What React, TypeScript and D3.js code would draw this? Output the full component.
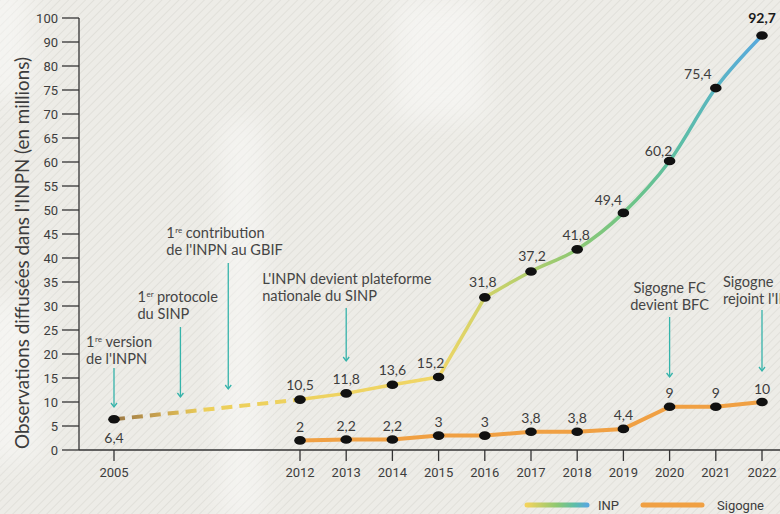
import React from "react";
import * as d3 from "d3";

const inpnYears = [2005, 2012, 2013, 2014, 2015, 2016, 2017, 2018, 2019, 2020, 2021, 2022];
const inpnValues = [6.4, 10.5, 11.8, 13.6, 15.2, 31.8, 37.2, 41.8, 49.4, 60.2, 75.4, 92.7];
const inpnLabels = ["6,4", "10,5", "11,8", "13,6", "15,2", "31,8", "37,2", "41,8", "49,4", "60,2", "75,4", "92,7"];

const sigYears = [2012, 2013, 2014, 2015, 2016, 2017, 2018, 2019, 2020, 2021, 2022];
const sigValues = [2, 2.2, 2.2, 3, 3, 3.8, 3.8, 4.4, 9, 9, 10];
const sigLabels = ["2", "2,2", "2,2", "3", "3", "3,8", "3,8", "4,4", "9", "9", "10"];

const yTicks = [0, 5, 10, 15, 20, 25, 30, 35, 40, 45, 50, 55, 60, 65, 70, 75, 80, 90, 100];
const xTicks = [2005, 2012, 2013, 2014, 2015, 2016, 2017, 2018, 2019, 2020, 2021, 2022];

const events = [
  { year: 2005, lines: [["1", "re", "version"], ["de l'INPN"]] },
  { year: 2007.5, lines: [["1", "er", "protocole"], ["du SINP"]] },
  { year: 2009.3, lines: [["1", "re", "contribution"], ["de l'INPN au GBIF"]] },
  { year: 2013, lines: [["L'INPN devient plateforme"], ["nationale du SINP"]] },
  { year: 2020, lines: [["Sigogne FC"], ["devient BFC"]] },
  { year: 2022, lines: [["Sigogne"], ["rejoint l'INPN"]] },
];

// label placement (dx, dy from point centre) — styling only
const inpnLabelOffsets = [[0, 18], [0, -15], [0, -15], [0, -15], [-8, -15], [-2, -16], [1, -16], [-1, -15], [-15, -13], [-11, -11], [-18, -15], [0, -18]];
const eventTextPos = [
  { dx: -28, ty: 342, anchor: "start", a0: 368, a1: 407 },
  { dx: -43, ty: 297, anchor: "start", a0: 327, a1: 397 },
  { dx: -62, ty: 233, anchor: "start", a0: 263, a1: 389 },
  { dx: -84, ty: 279, anchor: "start", a0: 308, a1: 361 },
  { dx: 0, ty: 288, anchor: "middle", a0: 317, a1: 377 },
  { dx: -39, ty: 282, anchor: "start", a0: 310, a1: 371 },
];

const W = 780;
const H = 514;
const axisX = 79;
const axisY = 450;

export default function App() {
  const x = d3.scaleLinear().domain([2005, 2012, 2022]).range([114, 300, 762]);
  const y = d3
    .scaleLinear()
    .domain(yTicks)
    .range(yTicks.map((_, i) => axisY - i * 24));

  const inpnPts = inpnYears.map((yr, i) => ({ yr, v: inpnValues[i] }));
  const sigPts = sigYears.map((yr, i) => ({ yr, v: sigValues[i] }));

  const linear = d3.line<{ yr: number; v: number }>().x((d) => x(d.yr)).y((d) => y(d.v));
  const smooth = d3
    .line<{ yr: number; v: number }>()
    .x((d) => x(d.yr))
    .y((d) => y(d.v))
    .curve(d3.curveMonotoneX);

  const dashedPath = linear(inpnPts.slice(0, 2)) || "";
  const solidA = linear(inpnPts.slice(1, 6)) || "";
  const solidB = smooth(inpnPts.slice(5)) || "";
  const sigPath = linear(sigPts) || "";

  const ff = "Lato, 'Open Sans', sans-serif";
  const tf = "Roboto, 'DejaVu Sans', sans-serif";
  const textCol = "#3d3d3d";
  const teal = "#35b3aa";
  const orange = "#f0a043";

  return (
    <svg width={W} height={H} style={{ position: "absolute", left: 0, top: 0 }}>
      <defs>
        <pattern id="hatch" width="6" height="6" patternUnits="userSpaceOnUse" patternTransform="rotate(45)">
          <rect width="6" height="6" fill="#edece7" />
          <line x1="0" y1="0" x2="0" y2="6" stroke="#d9d8d2" strokeWidth="1.2" />
        </pattern>
        <filter id="blur" x="-50%" y="-50%" width="200%" height="200%">
          <feGaussianBlur stdDeviation="14" />
        </filter>
        <linearGradient id="inpGrad" gradientUnits="userSpaceOnUse" x1={x(2005)} y1="0" x2={x(2022)} y2="0">
          <stop offset="0" stopColor="#9a7845" />
          <stop offset="0.07" stopColor="#c9a24e" />
          <stop offset="0.14" stopColor="#eccf5a" />
          <stop offset="0.5" stopColor="#f0d666" />
          <stop offset="0.6" stopColor="#c4d16a" />
          <stop offset="0.7" stopColor="#93c972" />
          <stop offset="0.8" stopColor="#6dc488" />
          <stop offset="0.88" stopColor="#5cbda9" />
          <stop offset="0.95" stopColor="#5ab1cc" />
          <stop offset="1" stopColor="#58a8dc" />
        </linearGradient>
        <linearGradient id="legGrad" gradientUnits="userSpaceOnUse" x1={527} y1="0" x2={587} y2="0">
          <stop offset="0" stopColor="#f2d35c" />
          <stop offset="0.5" stopColor="#8dc872" />
          <stop offset="0.8" stopColor="#5cbda9" />
          <stop offset="1" stopColor="#58a8dc" />
        </linearGradient>
      </defs>

      <rect width={W} height={H} fill="url(#hatch)" />
      <g filter="url(#blur)" fill="#ffffff" opacity={0.45}>
        <rect x={222} y={120} width={40} height={400} />
        <rect x={-20} y={-20} width={50} height={120} />
        <rect x={-20} y={300} width={60} height={160} />
        <rect x={395} y={0} width={90} height={120} />
      </g>

      {/* Y axis */}
      <line x1={axisX} y1={y(100)} x2={axisX} y2={axisY} stroke="#333" strokeWidth={1.3} />
      {yTicks.map((t) => (
        <g key={t}>
          <line x1={62} x2={axisX} y1={y(t)} y2={y(t)} stroke="#333" strokeWidth={1.3} />
          <text x={58} y={y(t)} textAnchor="end" dominantBaseline="central" fontFamily={tf} fontSize={13} fill={textCol}>
            {t}
          </text>
        </g>
      ))}
      <text
        transform={`translate(21,253) rotate(-90)`}
        textAnchor="middle"
        dominantBaseline="central"
        fontFamily={ff}
        fontSize={18.8}
        fill={textCol}
      >
        Observations diffusées dans l'INPN (en millions)
      </text>

      {/* X axis */}
      <line x1={axisX} y1={axisY} x2={W} y2={axisY} stroke="#333" strokeWidth={1.3} />
      {xTicks.map((t) => (
        <g key={t}>
          <line x1={x(t)} x2={x(t)} y1={axisY} y2={axisY + 11} stroke="#333" strokeWidth={1.3} />
          <text x={x(t)} y={axisY + 22} textAnchor="middle" dominantBaseline="central" fontFamily={tf} fontSize={13} fill={textCol}>
            {t}
          </text>
        </g>
      ))}

      {/* annotations */}
      {events.map((ev, i) => {
        const p = eventTextPos[i];
        const ax = x(ev.year);
        const tx = ax + p.dx;
        return (
          <g key={i}>
            {ev.lines.map((ln, j) => {
              const by = p.ty + j * 17 + 5;
              if (ln.length === 3) {
                return (
                  <g key={j}>
                    <text x={tx} y={by} fontFamily={ff} fontSize={14.6} fill="#454545">
                      {ln[0]}
                    </text>
                    <text x={tx + 9} y={by - 5} fontFamily={ff} fontSize={8} fill="#454545">
                      {ln[1]}
                    </text>
                    <text x={tx + 19.5} y={by} fontFamily={ff} fontSize={14.6} fill="#454545">
                      {ln[2]}
                    </text>
                  </g>
                );
              }
              return (
                <text key={j} x={tx} y={by} textAnchor={p.anchor as any} fontFamily={ff} fontSize={14.6} fill="#454545">
                  {ln[0]}
                </text>
              );
            })}
            <line x1={ax} x2={ax} y1={p.a0} y2={p.a1} stroke={teal} strokeWidth={1.3} />
            <path d={`M${ax - 3},${p.a1 - 4} L${ax},${p.a1} L${ax + 3},${p.a1 - 4}`} fill="none" stroke={teal} strokeWidth={1.3} />
          </g>
        );
      })}

      {/* lines */}
      <path d={dashedPath} fill="none" stroke="url(#inpGrad)" strokeWidth={4} strokeDasharray="11 7" />
      <path d={solidA} fill="none" stroke="url(#inpGrad)" strokeWidth={3.5} strokeLinejoin="round" />
      <path d={solidB} fill="none" stroke="url(#inpGrad)" strokeWidth={3.5} strokeLinejoin="round" />
      <path d={sigPath} fill="none" stroke={orange} strokeWidth={4} strokeLinejoin="round" />

      {/* points */}
      {inpnPts.map((d, i) => (
        <g key={"i" + i}>
          <ellipse cx={x(d.yr)} cy={y(d.v)} rx={5.8} ry={4.3} fill="#111" />
          <text
            x={x(d.yr) + inpnLabelOffsets[i][0]}
            y={y(d.v) + inpnLabelOffsets[i][1]}
            textAnchor="middle"
            dominantBaseline="central"
            fontFamily={ff}
            fontSize={14}
            fontWeight={i === inpnPts.length - 1 ? 700 : 400}
            fill={i === inpnPts.length - 1 ? "#1a1a1a" : textCol}
          >
            {inpnLabels[i]}
          </text>
        </g>
      ))}
      {sigPts.map((d, i) => (
        <g key={"s" + i}>
          <ellipse cx={x(d.yr)} cy={y(d.v)} rx={5.8} ry={4.3} fill="#111" />
          <text x={x(d.yr)} y={y(d.v) - 14} textAnchor="middle" dominantBaseline="central" fontFamily={ff} fontSize={14} fill={textCol}>
            {sigLabels[i]}
          </text>
        </g>
      ))}

      {/* legend */}
      <line x1={527} x2={587} y1={505} y2={505} stroke="url(#legGrad)" strokeWidth={5} strokeLinecap="round" />
      <text x={598} y={505} dominantBaseline="central" fontFamily={tf} fontSize={13} fill={textCol}>
        INP
      </text>
      <line x1={643} x2={702} y1={505} y2={505} stroke={orange} strokeWidth={5} strokeLinecap="round" />
      <text x={717} y={505} dominantBaseline="central" fontFamily={tf} fontSize={13} fill={textCol}>
        Sigogne
      </text>
    </svg>
  );
}
